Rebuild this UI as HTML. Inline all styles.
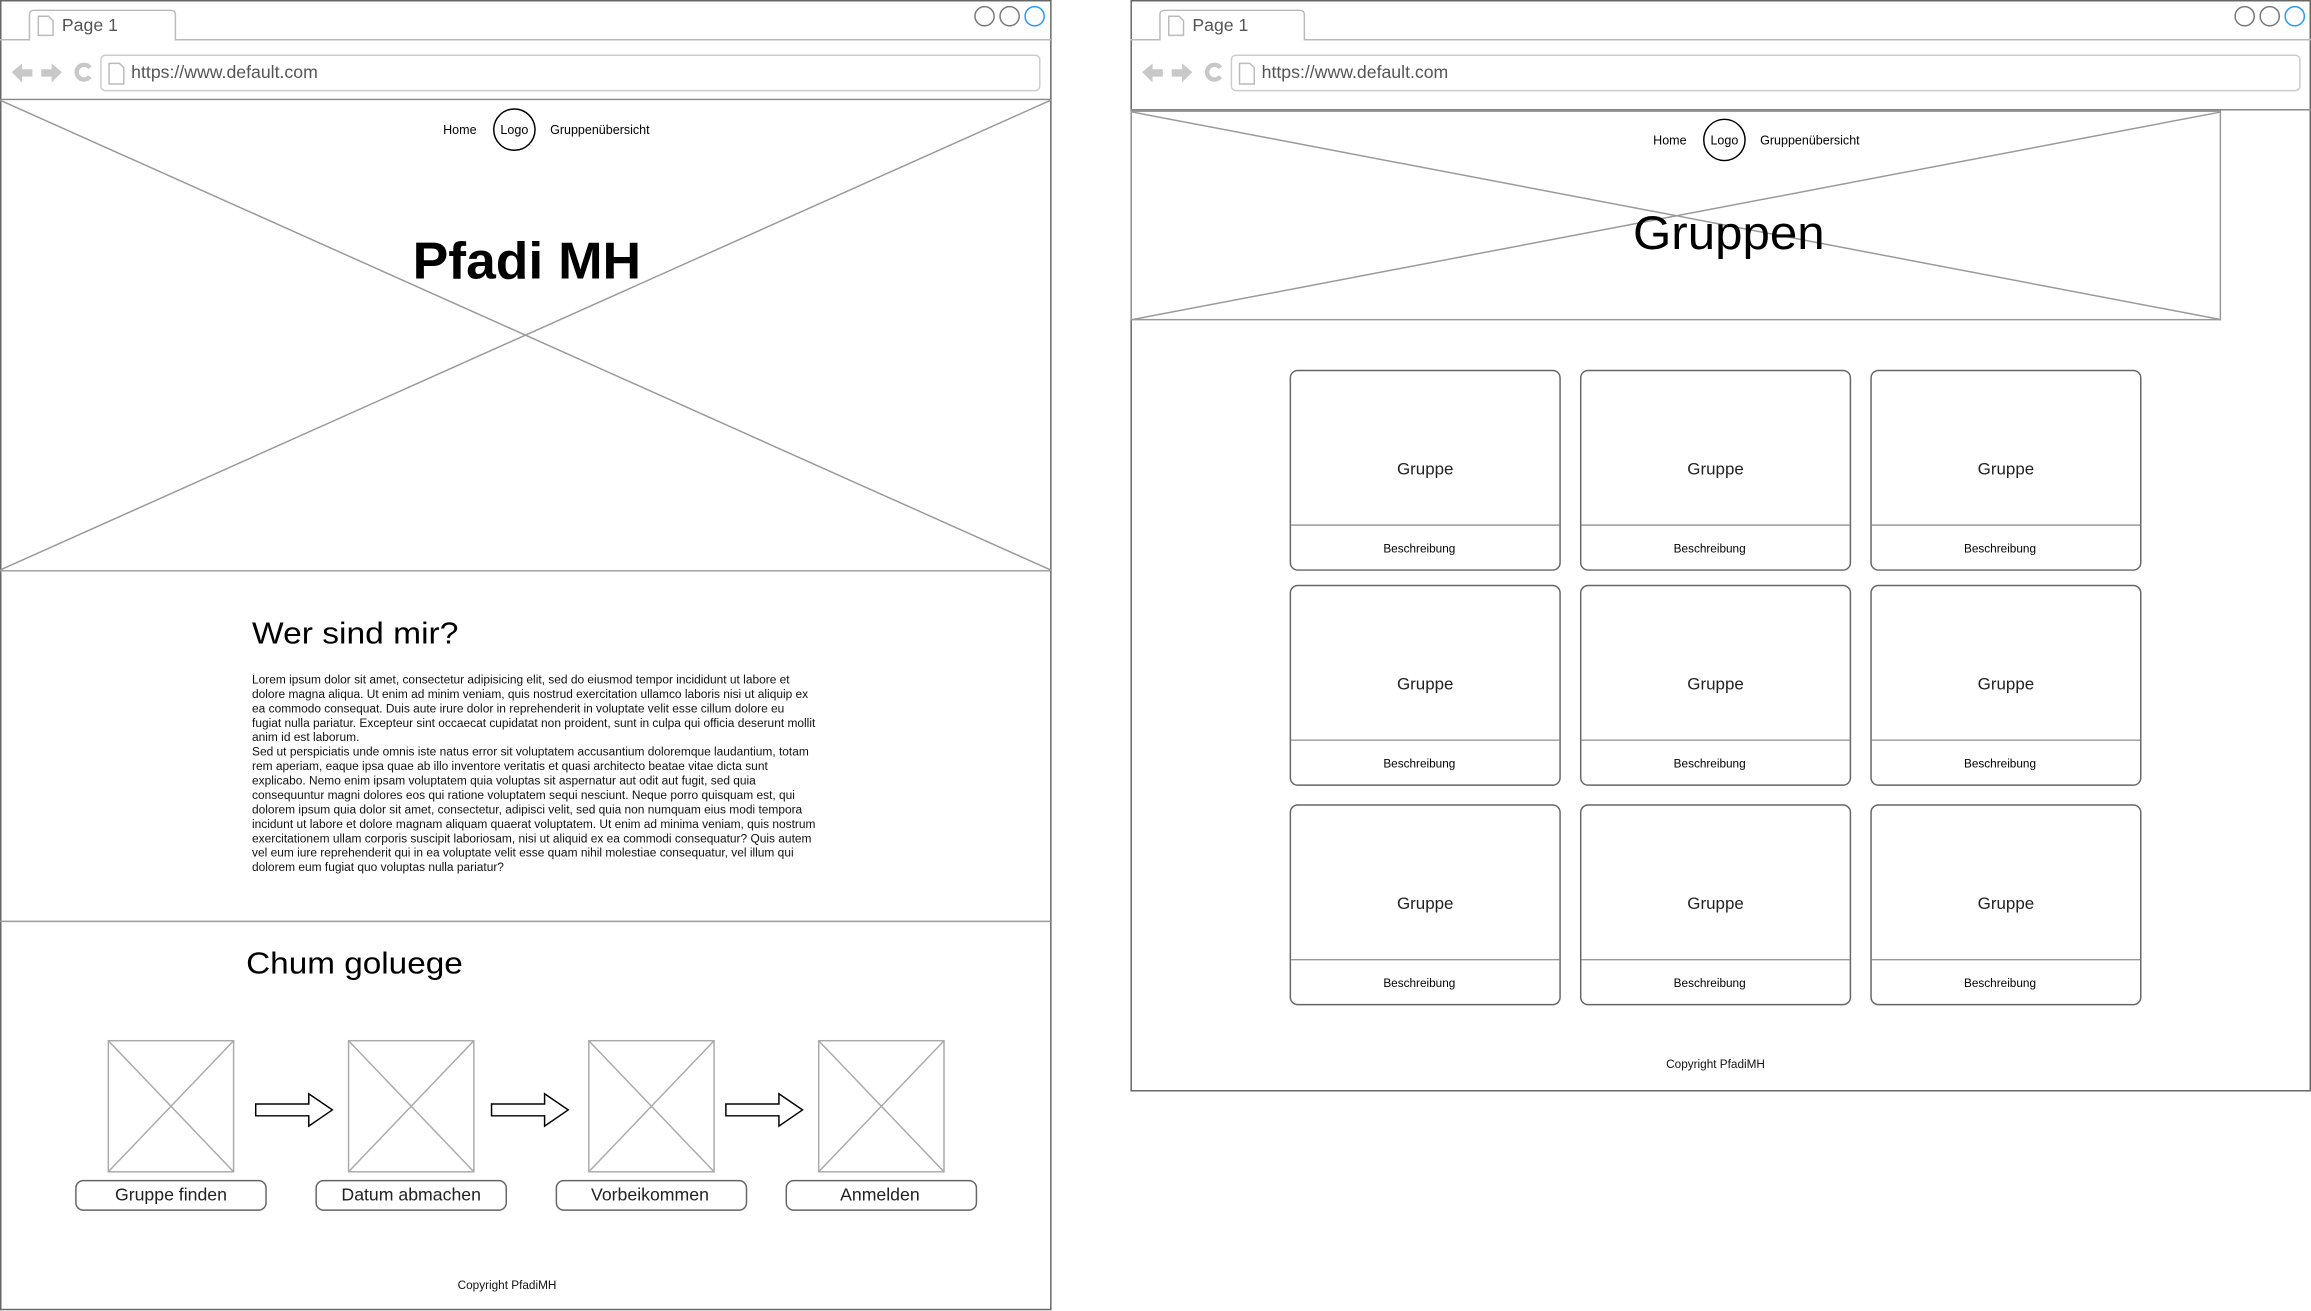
<!DOCTYPE html>
<html><head><meta charset="utf-8"><style>html,body{margin:0;padding:0;background:#fff;overflow:hidden}svg{display:block}</style></head><body>
<svg width="2311" height="1311" viewBox="0 0 1568 890" preserveAspectRatio="none" xmlns="http://www.w3.org/2000/svg" font-family="Liberation Sans, Arial, sans-serif">
<g fill="none" stroke="#999" stroke-width="1">
<rect x="0.5" y="0.5" width="712.5" height="888.5" stroke="#666"/>
<path d="M0 27H20V10Q20 7 23 7H116Q119 7 119 10V27H713" stroke="#bbb"/>
<rect x="68.5" y="37.5" width="637" height="24" rx="3" stroke="#ccc"/>
<line x1="0" y1="67.5" x2="713" y2="67.5" stroke="#888"/>
<line x1="0" y1="68" x2="713" y2="387"/>
<line x1="713" y1="68" x2="0" y2="387"/>
<line x1="0" y1="387.5" x2="713" y2="387.5"/>
<line x1="0" y1="625.5" x2="713" y2="625.5"/>
<circle cx="668" cy="11" r="6.5" stroke="#777"/><circle cx="685" cy="11" r="6.5" stroke="#777"/><circle cx="702" cy="11" r="6.5" stroke="#29f"/>
<rect x="767.5" y="0.5" width="800" height="740" stroke="#666"/>
<path d="M767 27H787V10Q787 7 790 7H882Q885 7 885 10V27H1568" stroke="#bbb"/>
<rect x="835.5" y="37.5" width="725" height="24" rx="3" stroke="#ccc"/>
<line x1="767" y1="74.5" x2="1568" y2="74.5" stroke="#888"/>
<rect x="767.5" y="75.5" width="739" height="141.5"/>
<line x1="768" y1="76" x2="1507" y2="217"/>
<line x1="1507" y1="76" x2="768" y2="217"/>
<circle cx="1523" cy="11" r="6.5" stroke="#777"/><circle cx="1540" cy="11" r="6.5" stroke="#777"/><circle cx="1557" cy="11" r="6.5" stroke="#29f"/>
</g>
<g fill="none" stroke="#bbb"><path d="M26 11h7l3 3v10h-10z"/><path d="M74 43h7l3 3v11h-10z"/><path d="M793 11h7l3 3v10h-10z"/><path d="M841 43h7l3 3v11h-10z"/></g>
<g fill="#c8c8c8"><path d="M8 49l7-6v4h7v5h-7v4z"/><path d="M42 49l-7-6v4h-7v5h7v4z"/><path d="M775 49l7-6v4h7v5h-7v4z"/><path d="M809 49l-7-6v4h-7v5h7v4z"/></g>
<g fill="none" stroke="#c8c8c8" stroke-width="3"><path d="M61 46a5 5 0 1 0 0 6"/><path d="M828 46a5 5 0 1 0 0 6"/></g>
<g fill="#555" font-size="12"><text x="42" y="21">Page 1</text><text x="809" y="21">Page 1</text><text x="89" y="53">https://www.default.com</text><text x="856" y="53">https://www.default.com</text></g>
<g font-size="8.5" fill="#000" text-anchor="middle"><text x="312" y="91">Home</text><text x="349" y="91">Logo</text><text x="407" y="91">Gruppenübersicht</text>
<text x="1133" y="98">Home</text><text x="1170" y="98">Logo</text><text x="1228" y="98">Gruppenübersicht</text></g>
<circle cx="349" cy="88" r="14" fill="none" stroke="#000"/>
<circle cx="1170" cy="95" r="14" fill="none" stroke="#000"/>
<text x="280" y="189" font-size="35" font-weight="bold" textLength="155" lengthAdjust="spacingAndGlyphs">Pfadi MH</text>
<text x="1108" y="169" font-size="32" textLength="130" lengthAdjust="spacingAndGlyphs">Gruppen</text>
<text x="171" y="437" font-size="21" textLength="140" lengthAdjust="spacingAndGlyphs">Wer sind mir?</text>
<text x="167" y="661" font-size="21" textLength="147" lengthAdjust="spacingAndGlyphs">Chum goluege</text>
<g font-size="8.1" fill="#111">
<text x="171" y="464">Lorem ipsum dolor sit amet, consectetur adipisicing elit, sed do eiusmod tempor incididunt ut labore et</text>
<text x="171" y="473.8">dolore magna aliqua. Ut enim ad minim veniam, quis nostrud exercitation ullamco laboris nisi ut aliquip ex</text>
<text x="171" y="483.6">ea commodo consequat. Duis aute irure dolor in reprehenderit in voluptate velit esse cillum dolore eu</text>
<text x="171" y="493.4">fugiat nulla pariatur. Excepteur sint occaecat cupidatat non proident, sunt in culpa qui officia deserunt mollit</text>
<text x="171" y="503.2">anim id est laborum.</text>
<text x="171" y="513">Sed ut perspiciatis unde omnis iste natus error sit voluptatem accusantium doloremque laudantium, totam</text>
<text x="171" y="522.8">rem aperiam, eaque ipsa quae ab illo inventore veritatis et quasi architecto beatae vitae dicta sunt</text>
<text x="171" y="532.6">explicabo. Nemo enim ipsam voluptatem quia voluptas sit aspernatur aut odit aut fugit, sed quia</text>
<text x="171" y="542.4">consequuntur magni dolores eos qui ratione voluptatem sequi nesciunt. Neque porro quisquam est, qui</text>
<text x="171" y="552.2">dolorem ipsum quia dolor sit amet, consectetur, adipisci velit, sed quia non numquam eius modi tempora</text>
<text x="171" y="562">incidunt ut labore et dolore magnam aliquam quaerat voluptatem. Ut enim ad minima veniam, quis nostrum</text>
<text x="171" y="571.8">exercitationem ullam corporis suscipit laboriosam, nisi ut aliquid ex ea commodi consequatur? Quis autem</text>
<text x="171" y="581.6">vel eum iure reprehenderit qui in ea voluptate velit esse quam nihil molestiae consequatur, vel illum qui</text>
<text x="171" y="591.4">dolorem eum fugiat quo voluptas nulla pariatur?</text>
</g>
<g fill="none" stroke="#aaa">
<rect x="73.5" y="706.5" width="85" height="89"/><path d="M73.5 706.5L158.5 795.5M158.5 706.5L73.5 795.5"/>
<rect x="236.5" y="706.5" width="85" height="89"/><path d="M236.5 706.5L321.5 795.5M321.5 706.5L236.5 795.5"/>
<rect x="399.5" y="706.5" width="85" height="89"/><path d="M399.5 706.5L484.5 795.5M484.5 706.5L399.5 795.5"/>
<rect x="555.5" y="706.5" width="85" height="89"/><path d="M555.5 706.5L640.5 795.5M640.5 706.5L555.5 795.5"/>
</g>
<g fill="none" stroke="#666">
<rect x="51.5" y="801.5" width="129" height="20" rx="5"/><rect x="214.5" y="801.5" width="129" height="20" rx="5"/>
<rect x="377.5" y="801.5" width="129" height="20" rx="5"/><rect x="533.5" y="801.5" width="129" height="20" rx="5"/>
</g>
<g fill="#fff" stroke="#000"><path d="M173.5 749.5h36v-7l16 11-16 11v-7h-36z"/><path d="M333.5 749.5h36v-7l16 11-16 11v-7h-36z"/><path d="M492.5 749.5h36v-7l16 11-16 11v-7h-36z"/></g>
<g font-size="12" text-anchor="middle" fill="#222"><text x="116" y="815">Gruppe finden</text><text x="279" y="815">Datum abmachen</text><text x="441" y="815">Vorbeikommen</text><text x="597" y="815">Anmelden</text></g>
<g font-size="8" text-anchor="middle" fill="#111"><text x="344" y="875">Copyright PfadiMH</text><text x="1164" y="725">Copyright PfadiMH</text></g>
<g id="card"><rect x="875.5" y="251.5" width="183" height="135.5" rx="5" fill="none" stroke="#666"/><line x1="876" y1="356.5" x2="1058" y2="356.5" stroke="#999"/><text x="967" y="322" font-size="11.5" text-anchor="middle" fill="#222">Gruppe</text><text x="963" y="375" font-size="8" text-anchor="middle">Beschreibung</text></g>
<use href="#card" x="197"/><use href="#card" x="394"/>
<use href="#card" y="146"/><use href="#card" x="197" y="146"/><use href="#card" x="394" y="146"/>
<use href="#card" y="295"/><use href="#card" x="197" y="295"/><use href="#card" x="394" y="295"/>
</svg>
</body></html>
